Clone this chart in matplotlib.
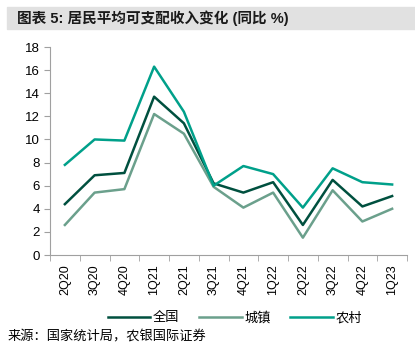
import matplotlib.pyplot as plt
from matplotlib.patches import Rectangle

plt.rcParams["font.family"] = ["Liberation Sans", "Noto Sans CJK SC", "DejaVu Sans"]

quarters = ["2Q20", "3Q20", "4Q20", "1Q21", "2Q21", "3Q21",
            "4Q21", "1Q22", "2Q22", "3Q22", "4Q22", "1Q23"]
national = [4.4, 6.9, 7.1, 13.7, 11.4, 6.2, 5.4, 6.3, 2.6, 6.5, 4.2, 5.1]
urban = [2.6, 5.4, 5.7, 12.2, 10.5, 5.9, 4.1, 5.4, 1.5, 5.6, 2.9, 4.0]
rural = [7.8, 10.0, 9.9, 16.3, 12.4, 6.0, 7.7, 7.0, 4.1, 7.5, 6.3, 6.1]

fig = plt.figure(figsize=(4.15, 3.44), dpi=100)

# grey title band
fig.patches.append(Rectangle((7 / 415, 1 - 29 / 344), 408 / 415, 22 / 344,
                             transform=fig.transFigure, color="#e1e1e1", zorder=0))
fig.text(17 / 415, 1 - 18 / 344, "图表 5: 居民平均可支配收入变化 (同比 %)",
         fontsize=10.5, fontweight="bold", va="center", color="#1a1a1a")

ax = fig.add_axes([50 / 415, 89 / 344, 357 / 415, 208 / 344])
x = list(range(len(quarters)))
ax.plot(x, national, color="#00503f", lw=1.8, label="全国")
ax.plot(x, urban, color="#6ba08c", lw=1.8, label="城镇")
ax.plot(x, rural, color="#00a08a", lw=1.8, label="农村")

ax.set_xlim(-0.5, len(quarters) - 0.5)
ax.set_ylim(0, 18)
ax.set_yticks(range(0, 19, 2))
ax.set_xticks(x)
ax.set_xticklabels(quarters, rotation=90, fontsize=9)
ax.set_xticks([i - 0.5 for i in range(len(quarters) + 1)], minor=True)
ax.tick_params(axis="x", which="major", length=0, pad=7)
ax.tick_params(axis="x", which="minor", length=4, color="#a0a0a0", direction="out")
ax.tick_params(axis="y", labelsize=9.5, length=4, color="#a0a0a0", direction="out")

for s in ["top", "right"]:
    ax.spines[s].set_visible(False)
for s in ["left", "bottom"]:
    ax.spines[s].set_color("#a0a0a0")

fig.legend(loc="center", bbox_to_anchor=(235 / 415, 1 - 318 / 344), ncol=3,
           frameon=False, fontsize=9.5, handlelength=3.2, columnspacing=1.5,
           handletextpad=0.2)

fig.text(8 / 415, 1 - 337 / 344, "来源：国家统计局，农银国际证券", fontsize=9.5, va="center")

fig.savefig("out.png", dpi=100)
